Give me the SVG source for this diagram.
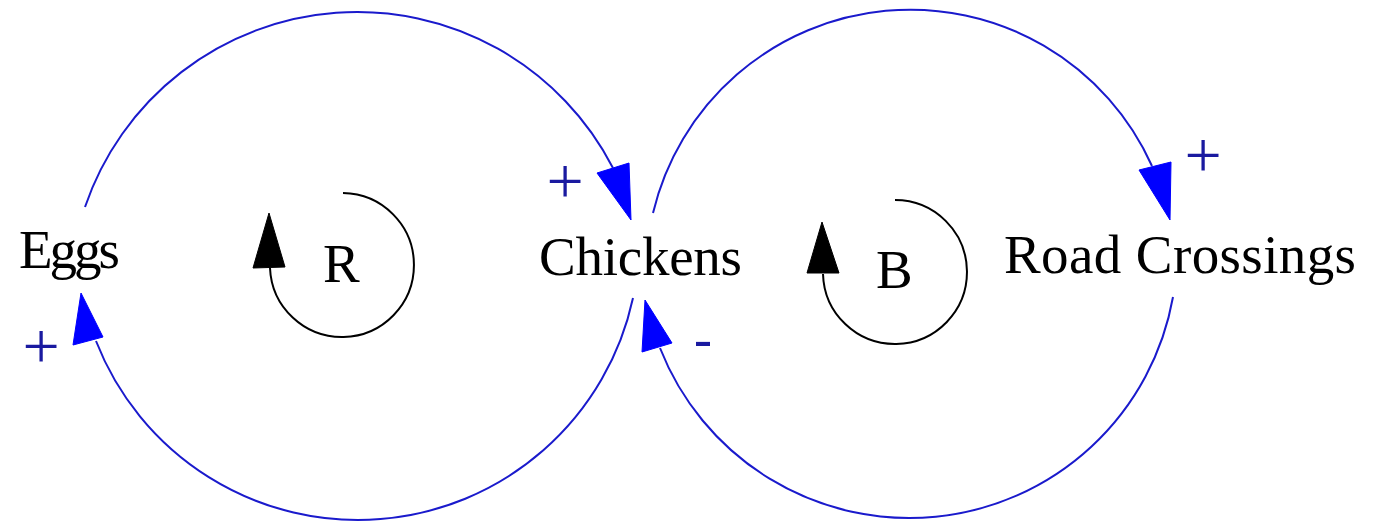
<svg xmlns="http://www.w3.org/2000/svg" width="1380" height="523" viewBox="0 0 1380 523">
  <style>
    .node { font-family: "Liberation Serif", "Times New Roman", serif; font-size: 55px; fill: #000; }
    .loopl { font-family: "Liberation Serif", "Times New Roman", serif; font-size: 55px; fill: #000; }
    .link { fill: none; stroke: #1a1acc; stroke-width: 2; }
    .head { fill: #0000ff; stroke: #0000ff; stroke-width: 1; stroke-linejoin: miter; }
    .pol { font-family: "Liberation Serif", "Times New Roman", serif; fill: #1a1aa0; text-anchor: middle; }
    .loop { fill: none; stroke: #000; stroke-width: 2; }
    .lhead { fill: #000; stroke: #000; stroke-width: 1; }
  </style>
  <rect x="0" y="0" width="1380" height="523" fill="#ffffff"/>

  <g id="connectors">
    <!-- Eggs -> Chickens (+) -->
    <path class="link" d="M85,207 A287.6,287.6 0 0 1 613,168"/>
    <polygon class="head" points="597,173 629,163 631,220"/>
    <text class="pol" x="565" y="203" font-size="66">+</text>
    <!-- Chickens -> Eggs (+) -->
    <path class="link" d="M633,298 A281.3,281.3 0 0 1 96,341"/>
    <polygon class="head" points="81,293 73,345 103,337"/>
    <text class="pol" x="41" y="368" font-size="66">+</text>
    <!-- Chickens -> Road Crossings (+) -->
    <path class="link" d="M653,213 A264.7,264.7 0 0 1 1152,166"/>
    <polygon class="head" points="1139,170 1171,162 1170,220"/>
    <text class="pol" x="1203" y="177" font-size="66">+</text>
    <!-- Road Crossings -> Chickens (-) -->
    <path class="link" d="M1173,297 A267.8,267.8 0 0 1 660,348"/>
    <polygon class="head" points="645,300 642,352 672,343"/>
    <text class="pol" x="703" y="357" font-size="54">-</text>
  </g>

  <g id="node-eggs">
    <text class="node" x="19" y="268" textLength="101">Eggs</text>
  </g>
  <g id="node-chickens">
    <text class="node" x="539" y="275" textLength="203">Chickens</text>
  </g>
  <g id="node-road-crossings">
    <text class="node" x="1004" y="273" textLength="352">Road Crossings</text>
  </g>

  <g id="loop-R">
    <path class="loop" d="M343,193 A72,72 0 1 1 270,268"/>
    <polygon class="lhead" points="269,213 253,268 285,267"/>
    <text class="loopl" x="323" y="282">R</text>
  </g>
  <g id="loop-B">
    <path class="loop" d="M895,200 A72,72 0 1 1 823,274"/>
    <polygon class="lhead" points="822,222 807,273 839,273"/>
    <text class="loopl" x="876" y="288">B</text>
  </g>
</svg>
